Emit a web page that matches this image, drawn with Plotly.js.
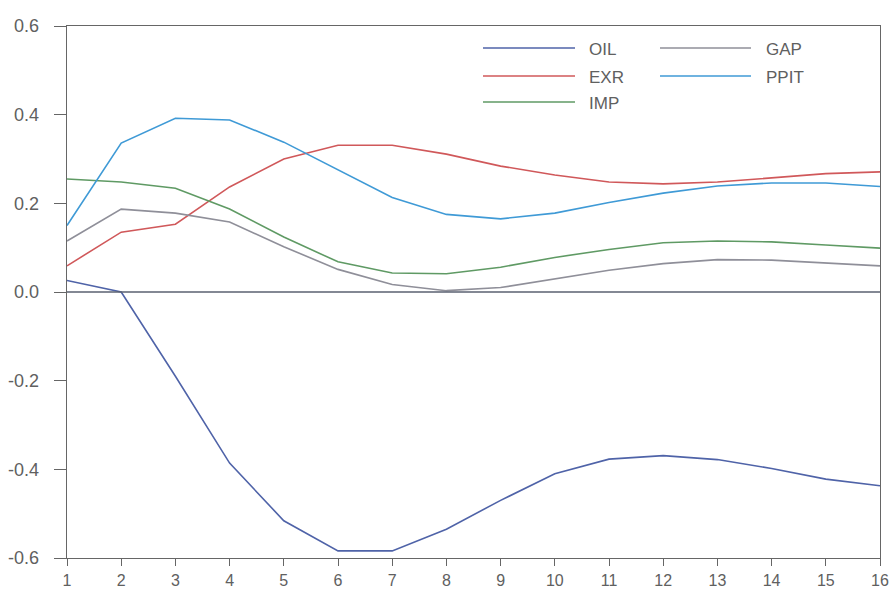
<!DOCTYPE html>
<html><head><meta charset="utf-8">
<script src="https://cdn.plot.ly/plotly-3.0.1.min.js"></script>
<style>html,body{margin:0;padding:0;background:#fff}#chart{width:893px;height:590px}</style>
</head><body><div id="chart"></div>
<script>
var periods = [1,2,3,4,5,6,7,8,9,10,11,12,13,14,15,16];
var seriesNames = ["OIL","EXR","IMP","GAP","PPIT"];
var OIL  = [0.026,0.0,-0.19,-0.386,-0.516,-0.584,-0.584,-0.535,-0.47,-0.41,-0.377,-0.369,-0.378,-0.398,-0.422,-0.437];
var EXR  = [0.059,0.135,0.153,0.237,0.300,0.331,0.331,0.311,0.284,0.264,0.248,0.244,0.248,0.258,0.267,0.271];
var IMP  = [0.255,0.248,0.234,0.187,0.124,0.068,0.043,0.041,0.056,0.078,0.096,0.111,0.115,0.113,0.106,0.099];
var GAP  = [0.115,0.187,0.178,0.158,0.102,0.051,0.017,0.003,0.010,0.030,0.049,0.064,0.073,0.072,0.065,0.059];
var PPIT = [0.150,0.336,0.392,0.388,0.338,0.276,0.213,0.175,0.165,0.178,0.202,0.223,0.239,0.246,0.246,0.238];
var seriesValues = [OIL, EXR, IMP, GAP, PPIT];
var colors = ["#4f63a8","#d0585a","#5f9a64","#8f8f99","#3f9ad6"];

var traces = seriesNames.map(function(n,i){
  return {x:periods, y:seriesValues[i], name:n, type:"scatter", mode:"lines",
          line:{color:colors[i], width:1.6}, showlegend:false};
});

// custom legend (two columns)
var legendPos = [
  {x0:483,x1:575,tx:587,y:48},
  {x0:483,x1:575,tx:587,y:76},
  {x0:483,x1:575,tx:587,y:102},
  {x0:660,x1:751,tx:764,y:48},
  {x0:660,x1:751,tx:764,y:76}
];
var L=67, R=880, T=26, B=558;
function px(x){return (x-L)/(R-L);}
function py(y){return (B-y)/(B-T);}
var shapes = [{type:"line",xref:"paper",yref:"y",x0:0,x1:1,y0:0,y1:0,line:{color:"#5a6070",width:1.3}}];
var annotations = [];
seriesNames.forEach(function(n,i){
  var p = legendPos[i];
  shapes.push({type:"line",xref:"paper",yref:"paper",x0:px(p.x0),x1:px(p.x1),y0:py(p.y),y1:py(p.y),line:{color:colors[i],width:1.4}});
  annotations.push({xref:"paper",yref:"paper",x:px(p.tx),y:py(p.y+1),xanchor:"left",yanchor:"middle",text:n,showarrow:false,
    font:{family:"Liberation Sans, Arial, sans-serif",size:17,color:"#606060"}});
});

var layout = {
  width:893, height:590,
  margin:{l:L, r:893-R, t:T, b:590-B, pad:0},
  paper_bgcolor:"#fff", plot_bgcolor:"#fff",
  showlegend:false,
  font:{family:"Liberation Sans, Arial, sans-serif", size:18, color:"#606060"},
  xaxis:{range:[1,16], tickvals:periods, ticks:"outside", ticklen:7, tickcolor:"#666",
         showgrid:false, zeroline:false, showline:true, linecolor:"#666", linewidth:1.3, mirror:true,
         ticklabelstandoff:0, tickfont:{size:16,color:"#606060"}},
  yaxis:{range:[-0.6,0.6], tickvals:[-0.6,-0.4,-0.2,0,0.2,0.4,0.6], ticktext:["-0.6","-0.4","-0.2","0.0","0.2","0.4","0.6"],
         ticks:"outside", ticklen:12, tickcolor:"#666", ticklabelstandoff:11,
         showgrid:false, zeroline:false, showline:true, linecolor:"#666", linewidth:1.3, mirror:true,
         tickfont:{size:18,color:"#606060"}},
  shapes:shapes, annotations:annotations
};
Plotly.newPlot("chart", traces, layout, {displayModeBar:false, staticPlot:true});
</script></body></html>
